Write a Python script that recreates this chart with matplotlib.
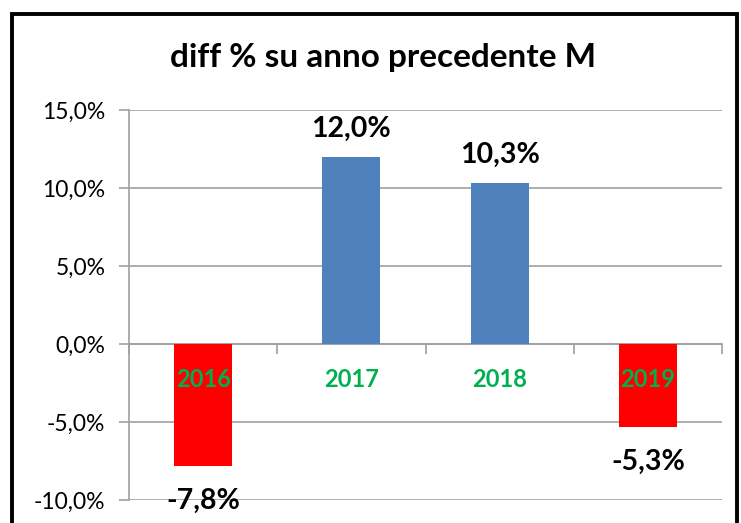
import matplotlib
matplotlib.use("Agg")
import matplotlib.pyplot as plt
from matplotlib.patches import Rectangle
from matplotlib.ticker import FuncFormatter, FixedLocator

categories = ["2016", "2017", "2018", "2019"]
values = [-7.8, 12.0, 10.3, -5.3]
colors = ["#FF0000", "#4F81BD", "#4F81BD", "#FF0000"]
yticks = [-10, -5, 0, 5, 10, 15]
title = "diff % su anno precedente M"

plt.rcParams['font.family'] = ['Lato', 'DejaVu Sans']

fig = plt.figure(figsize=(7.41, 5.23), dpi=100)
ax = fig.add_axes([129/741, 1-500/523, (722-129)/741, (500-110)/523])

x = list(range(len(categories)))
ax.bar(x, values, width=0.39, color=colors, zorder=3)
ax.set_xlim(-0.5, len(categories)-0.5)
ax.set_ylim(-10, 15)

grid_c = "#A0A0A0"
ax.set_yticks(yticks)
ax.yaxis.set_major_formatter(FuncFormatter(lambda v, p: f"{v:.1f}%".replace(".", ",")))
ax.tick_params(axis='y', direction='out', length=7, width=1.2, color=grid_c,
               labelsize=16.5, pad=10)
ax.grid(axis='y', color=grid_c, linewidth=1.2, zorder=0)

ax.spines['top'].set_visible(False)
ax.spines['right'].set_visible(False)
ax.spines['left'].set_color(grid_c)
ax.spines['left'].set_linewidth(1.2)
ax.spines['bottom'].set_position(('data', 0))
ax.spines['bottom'].set_color(grid_c)
ax.spines['bottom'].set_linewidth(1.2)
ax.xaxis.set_major_locator(FixedLocator([i + 0.5 for i in range(-1, len(categories))]))
ax.set_xticklabels([])
ax.tick_params(axis='x', direction='out', length=7, width=1.2, color=grid_c)

for xi, cat in zip(x, categories):
    ax.text(xi, -2.76, cat, ha='center', va='baseline', color="#00B050",
            fontsize=17, fontweight='bold', zorder=5)

for xi, v in zip(x, values):
    lab = f"{v:.1f}%".replace(".", ",")
    if v >= 0:
        ax.text(xi, v + 1.28, lab, ha='center', va='baseline', fontsize=20.5,
                fontweight='bold', zorder=5)
    else:
        ax.text(xi, v - 2.75, lab, ha='center', va='baseline', fontsize=20.5,
                fontweight='bold', zorder=5)

fig.text(383/741, 1-67/523, title, ha='center', va='baseline', fontsize=24,
         fontweight='bold')

border = Rectangle((11.5/741, -0.05), (737-11.5)/741, 1.05 - 13.5/523,
                   transform=fig.transFigure, fill=False, edgecolor='black',
                   linewidth=2.8, clip_on=False)
fig.patches.append(border)

fig.savefig("out.png", dpi=100)
